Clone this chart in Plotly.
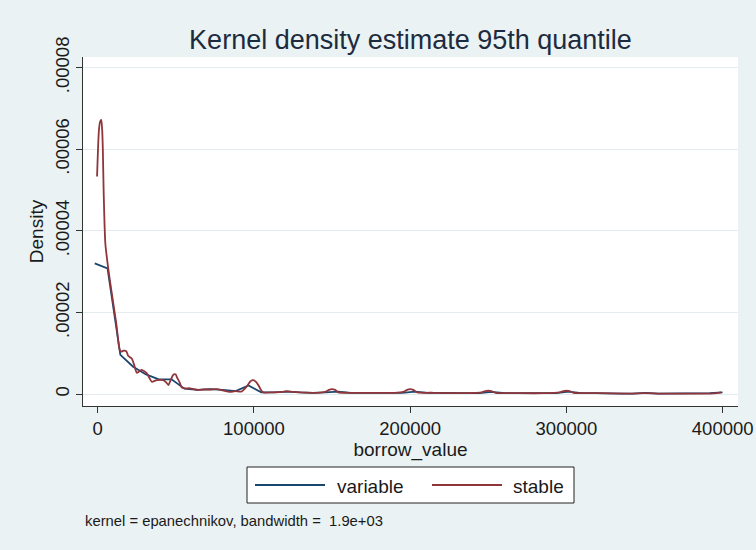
import numpy as np
import plotly.graph_objects as go

# ---- data (density values in units of 1e-5) ----
variable_x = [-1900, 6300, 14500, 22700, 30900, 39100, 47300, 55500, 63700, 71900,
              80100, 88300, 96500, 104700, 112900, 121100, 129300, 137500, 145700, 153900,
              162100, 170300, 178500, 186700, 194900, 203100, 211300, 219500, 227700, 235900,
              244100, 252300, 260500, 268700, 276900, 285100, 293300, 301500, 309700, 317900,
              326100, 334300, 342500, 350700, 358900, 367100, 375300, 383500, 391700, 399900]
variable_e5 = [3.20, 3.08, 0.96, 0.67, 0.48, 0.36, 0.36, 0.13, 0.10, 0.12,
               0.10, 0.07, 0.21, 0.04, 0.04, 0.06, 0.04, 0.03, 0.04, 0.06,
               0.03, 0.03, 0.03, 0.03, 0.03, 0.06, 0.03, 0.03, 0.02, 0.02,
               0.02, 0.05, 0.02, 0.02, 0.02, 0.02, 0.02, 0.06, 0.02, 0.02,
               0.01, 0.01, 0.01, 0.03, 0.01, 0.01, 0.01, 0.01, 0.02, 0.04]

stable_x = [-400, 800, 1600, 2300, 2900, 3300, 3840, 4900, 6600, 8700,
            11900, 14100, 15200, 16400, 18300, 19600, 21800, 23300, 25000, 26500,
            28200, 31400, 33000, 34600, 37800, 42000, 44000, 45200, 46800, 48400,
            50000, 50600, 52500, 53800, 56000, 59100, 64400, 68000, 72000, 76000,
            80000, 84700, 88000, 92000, 95300, 97500, 99200, 101000, 102800, 104500,
            106000, 112000, 118000, 121000, 125000, 130000, 140000, 145500, 148000, 149800,
            152000, 154000, 160000, 170000, 180000, 190000, 195500, 198000, 199900, 202000,
            204500, 215000, 230000, 245500, 248000, 250000, 252000, 254500, 270000, 285000,
            295500, 298000, 300000, 302000, 304500, 320000, 340000, 350000, 360000, 380000,
            392000, 396000, 399000]
stable_e5 = [5.33, 6.47, 6.68, 6.72, 6.45, 6.00, 4.92, 3.69, 3.12, 2.55,
             1.73, 1.08, 1.04, 1.06, 1.05, 0.93, 0.87, 0.72, 0.52, 0.55,
             0.59, 0.51, 0.40, 0.30, 0.34, 0.34, 0.28, 0.22, 0.35, 0.47,
             0.48, 0.42, 0.28, 0.16, 0.14, 0.14, 0.10, 0.11, 0.11, 0.12,
             0.09, 0.05, 0.07, 0.06, 0.18, 0.30, 0.34, 0.31, 0.22, 0.10,
             0.04, 0.04, 0.05, 0.07, 0.05, 0.04, 0.03, 0.05, 0.10, 0.12,
             0.10, 0.04, 0.03, 0.03, 0.03, 0.03, 0.05, 0.10, 0.12, 0.10,
             0.04, 0.03, 0.02, 0.04, 0.07, 0.08, 0.07, 0.03, 0.02, 0.02,
             0.04, 0.07, 0.08, 0.07, 0.03, 0.02, 0.01, 0.02, 0.01, 0.01,
             0.01, 0.02, 0.04]

y_ticks = [0, 0.00002, 0.00004, 0.00006, 0.00008]
y_tick_labels = ["0", ".00002", ".00004", ".00006", ".00008"]
x_ticks = [0, 100000, 200000, 300000, 400000]
x_tick_labels = ["0", "100000", "200000", "300000", "400000"]
series_names = ["variable", "stable"]

NAVY = "#1a476f"
MAROON = "#90353b"
BG = "#eaf2f3"
FONT = "Liberation Sans, Arial, sans-serif"
TXT = "#1a1a1a"

# plot-area pixel geometry (for converting layout pixel positions to paper coords)
L, R, T, B = 83, 738, 57, 406
W, H = R - L, B - T


def px(xp):
    return (xp - L) / W


def py(yp):
    return (B - yp) / H


fig = go.Figure()
fig.add_trace(go.Scatter(x=variable_x, y=np.array(variable_e5) * 1e-5, mode="lines",
                         name=series_names[0], showlegend=False,
                         line=dict(color=NAVY, width=1.8)))
fig.add_trace(go.Scatter(x=stable_x, y=np.array(stable_e5) * 1e-5, mode="lines",
                         name=series_names[1], showlegend=False,
                         line=dict(color=MAROON, width=1.8, shape="spline", smoothing=0.6)))

fig.update_layout(
    width=756, height=550,
    margin=dict(l=L, r=756 - R, t=T, b=550 - B, autoexpand=False),
    paper_bgcolor=BG, plot_bgcolor="white",
    font=dict(family=FONT, color=TXT, size=18.5),
    title=dict(text="Kernel density estimate 95th quantile", x=0.5, xref="paper",
               y=1 - 40 / 550, yref="container", yanchor="middle", xanchor="center",
               font=dict(size=27, color="#1d2b3f", family=FONT)),
    showlegend=False,
    xaxis=dict(range=[-9400, 409800], tickvals=x_ticks, ticktext=x_tick_labels,
               automargin=False,
               showgrid=False, zeroline=False, showline=True, linecolor="#333", linewidth=1.2,
               ticks="outside", ticklen=6, tickcolor="#333", tickwidth=1.2,
               tickfont=dict(size=18.5), title=dict(text="borrow_value", font=dict(size=19), standoff=0)),
    yaxis=dict(range=[-0.00000294, 0.0000826], tickvals=y_ticks, ticktext=y_tick_labels,
               automargin=False,
               tickangle=-90, showgrid=True, gridcolor="#e3edef", gridwidth=1,
               zeroline=False, showline=True, linecolor="#333", linewidth=1.2,
               ticks="outside", ticklen=6, tickcolor="#333", tickwidth=1.2,
               tickfont=dict(size=18.5), title=dict(text="Density", font=dict(size=19), standoff=2)),
)

# legend box (drawn to match the long line samples of the original)
fig.add_shape(type="rect", xref="paper", yref="paper",
              x0=px(247), x1=px(574), y0=py(503), y1=py(467),
              fillcolor="white", line=dict(color="#222", width=1))
leg_line_x = [(255, 325), (432, 502)]
leg_text_x = [337, 513]
for name, col, (lx0, lx1), tx in zip(series_names, [NAVY, MAROON], leg_line_x, leg_text_x):
    fig.add_shape(type="line", xref="paper", yref="paper",
                  x0=px(lx0), x1=px(lx1), y0=py(485), y1=py(485),
                  line=dict(color=col, width=1.8))
    fig.add_annotation(text=name, xref="paper", yref="paper", x=px(tx - 2), y=py(486),
                       xanchor="left", yanchor="middle", showarrow=False,
                       font=dict(size=19, family=FONT, color=TXT))

fig.add_annotation(text="kernel = epanechnikov, bandwidth =  1.9e+03", xref="paper", yref="paper",
                   x=px(83), y=py(521), xanchor="left", yanchor="middle",
                   showarrow=False, font=dict(size=14.8, family=FONT, color=TXT))

fig.write_html("out.html")
